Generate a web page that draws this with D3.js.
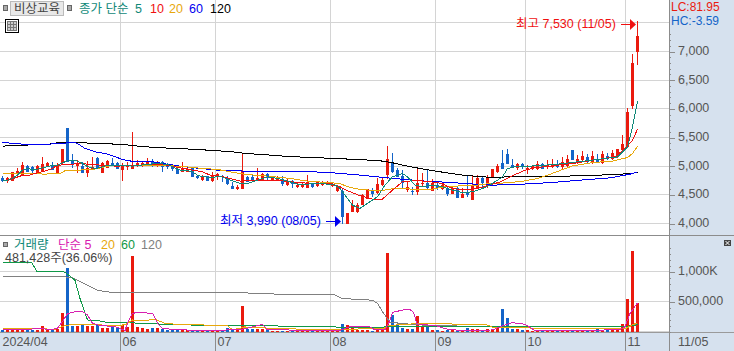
<!DOCTYPE html>
<html>
<head>
<meta charset="utf-8">
<script src="https://cdnjs.cloudflare.com/ajax/libs/d3/7.8.5/d3.min.js"></script>
<style>
html,body{margin:0;padding:0;background:#fff;overflow:hidden}
svg{display:block;font-family:"Liberation Sans","Noto Sans CJK KR",sans-serif}
.tx{font-size:12.5px}
</style>
</head>
<body>
<div id="chart"></div>
<script>
// 가격 (일봉 128개, 그림에서 읽은 값)
const opens = [4786,4740,4746,4856,4844,5007,4990,4885,4914,5007,
5007,4885,5048,5664,5088,5007,5001,4885,4943,5146,
4885,4972,5059,5059,4937,4990,4955,5001,5001,5036,
5077,5007,5077,5019,5001,4943,4902,4902,4961,4833,
4757,4827,4746,4804,4833,4769,4653,4595,4606,4804,
4815,4746,4757,4862,4757,4746,4769,4670,4734,4629,
4641,4624,4687,4653,4676,4682,4647,4560,4566,4000,
4205,4194,4321,4432,4565,4536,4670,4844,5059,4931,
4827,4583,4571,4554,4687,4699,4571,4670,4600,4612,
4519,4624,4449,4536,4409,4612,4786,4699,4814,4901,
5063,5209,5017,4976,5046,4930,4953,4959,5034,4988,
4988,5017,4988,5005,5278,5075,5116,5162,5075,5133,
5063,5174,5133,5162,5278,5337,6045,6992];
const closes = [4740,4786,4891,4914,5019,4902,4914,5007,5036,5048,
4937,5019,5298,5077,5019,5059,4885,4972,4990,4961,
5048,5088,5019,4949,5007,5013,5007,5048,5048,5071,
5001,5065,4990,4990,4943,4868,4949,4949,4815,4786,
4833,4740,4827,4856,4804,4687,4606,4641,4920,4728,
4746,4786,4862,4786,4804,4804,4682,4746,4682,4664,
4682,4716,4641,4722,4722,4722,4687,4658,4118,4176,
4321,4321,4490,4595,4513,4687,4757,5123,4902,4815,
4699,4629,4554,4711,4711,4624,4699,4624,4670,4507,
4612,4449,4513,4490,4658,4786,4699,4815,4959,5005,
4959,5046,4988,5046,5005,4971,5005,5046,4959,5017,
5046,4988,5075,5133,5116,5133,5174,5075,5174,5075,
5209,5133,5238,5296,5395,5941,6806,7265];
const highs = [4827,4804,4902,4961,5065,5019,5001,5019,5164,5077,
5077,5048,5298,5664,5205,5106,5077,5094,5152,5164,
5077,5106,5146,5077,5048,5077,5594,5106,5094,5135,
5117,5094,5094,5048,5019,4961,5065,4990,4978,4844,
4844,4833,4897,4873,4844,4827,4728,4670,5234,4827,
4844,4961,4885,4873,4827,4827,4827,4769,4757,4728,
4711,4844,4711,4740,4740,4740,4711,4670,4612,4176,
4409,4350,4513,4606,4612,4786,4804,5350,5234,4961,
4931,4740,4641,4978,4873,4931,4769,4716,4699,4653,
4641,4641,4612,4827,4827,4844,4804,4844,4959,5046,
5278,5296,5122,5063,5063,5017,5029,5087,5058,5104,
5133,5104,5162,5191,5278,5191,5267,5220,5267,5220,
5267,5232,5278,5296,5540,6016,6952,7530];
const lows = [4728,4699,4740,4786,4833,4891,4873,4856,4902,4990,
4931,4873,5019,5077,4961,4873,4873,4815,4931,4949,
4873,4961,5007,4943,4746,4931,4949,4990,4978,5001,
4978,4990,4902,4949,4920,4862,4891,4891,4804,4769,
4746,4734,4728,4757,4728,4670,4595,4583,4600,4716,
4728,4746,4746,4757,4746,4746,4658,4658,4612,4618,
4618,4612,4624,4641,4658,4670,4641,4554,3990,4000,
4199,4188,4316,4426,4455,4513,4658,4769,4873,4804,
4612,4554,4496,4496,4641,4600,4560,4583,4583,4478,
4507,4443,4438,4467,4409,4600,4641,4612,4785,4889,
4942,5034,4971,4930,4942,4872,4930,4930,4947,4959,
4971,4971,4959,4976,5104,5046,5075,5058,5046,5058,
5046,5104,5104,5151,5249,5337,5993,6760];

// 거래량 (천주)
const volumes = [27,38,44,33,33,27,27,27,93,38,
27,44,307,1060,99,99,110,99,99,104,
66,66,77,55,110,82,1263,82,55,38,
55,55,49,27,27,27,27,27,27,27,
27,27,22,27,16,60,22,27,423,44,
44,49,44,27,16,16,16,11,16,16,
16,16,16,16,16,16,16,27,126,110,
55,27,27,27,16,27,27,1312,275,110,
66,44,49,258,82,82,27,27,11,27,
22,22,27,66,44,38,22,44,38,55,
373,225,44,49,33,22,16,16,16,16,
16,16,27,27,27,22,22,27,27,44,
27,27,27,38,126,538,1334,481.428];

// 이동평균 꺾임점 [봉 번호, 값]
const ma5 = [[0,4740],[1,4757],[2,4786],[3,4844],[4,4931],[5,4961],[6,4943],[7,4949],[8,4972],[9,4990],[10,5019],[11,5019],[12,5059],[13,5094],[14.5,5106],[16,5048],[17,4990],[18.5,4961],[19.5,4972],[21,5019],[24,5019],[26,5001],[29,5030],[31,5048],[33,5030],[34,4990],[35.5,4931],[36.5,4931],[38,4902],[39,4844],[40,4815],[42,4804],[43.5,4827],[45.5,4757],[47.5,4699],[49,4699],[50,4728],[52,4786],[53,4815],[55,4786],[57,4740],[59,4687],[61,4687],[63,4699],[65,4687],[66.5,4670],[67.5,4612],[68.5,4496],[70,4321],[71.5,4263],[73,4350],[75,4467],[76.5,4670],[78,4815],[80,4873],[81,4815],[82.5,4670],[84,4641],[86,4670],[88,4641],[90,4583],[92,4536],[94,4554],[96,4612],[97.5,4670],[100,4814],[101,4959],[102.5,4988],[106.5,5005],[111,5034],[115,5075],[119,5116],[123,5162],[125,5337],[126,5685],[127,6133]];
const ma10 = [[0,4740],[2,4786],[3,4804],[4,4844],[5,4833],[7,4885],[8,4902],[9.5,4943],[10.5,4990],[12,5030],[13.5,5030],[15.5,5048],[17.5,5030],[19.5,5019],[22.5,5001],[26,5007],[29,5030],[31,5030],[33,5019],[35,4978],[37,4949],[38,4931],[40,4902],[41.5,4844],[43.5,4827],[45.5,4786],[47.5,4740],[49,4746],[55,4757],[57.5,4728],[61.5,4699],[65.5,4699],[67.5,4641],[69,4571],[71.5,4484],[74,4426],[76,4426],[78,4583],[80,4728],[82,4746],[84.5,4740],[88,4699],[89,4641],[91,4600],[93,4595],[95,4612],[97.5,4670],[99.5,4726],[101.5,4814],[104.5,4930],[106.5,4971],[111,5017],[114,5046],[118,5104],[122.5,5162],[124.5,5308],[126,5453],[127,5645]];
const ma20 = [[0,4873],[4,4873],[8.5,4862],[11.5,4873],[12.5,4920],[14.5,4926],[18.5,4949],[21.5,5007],[25.5,5019],[29.5,5019],[33.5,5007],[36.5,4990],[40,4961],[43,4943],[45.5,4902],[48.5,4856],[53,4827],[57.5,4786],[61,4740],[65.5,4711],[67.5,4699],[69,4641],[71.5,4595],[75,4571],[76.5,4583],[78.5,4612],[82,4600],[86,4600],[88.5,4641],[91,4653],[95,4670],[97.5,4699],[101,4709],[104.5,4744],[107,4785],[109,4843],[114,5005],[118,5063],[122,5087],[125,5151],[126,5220],[127,5348]];
const ma60 = [[0,5414],[3,5390],[6,5373],[9.5,5385],[14.5,5414],[15,5396],[16.5,5309],[18.5,5251],[20.5,5222],[22.5,5164],[24,5117],[26,5083],[30,5077],[32,5048],[35,5007],[37.5,4978],[39.5,4961],[43,4931],[47.5,4920],[49,4902],[62,4902],[66,4885],[71.5,4844],[76,4804],[80.5,4769],[84.5,4740],[89.5,4716],[94.5,4687],[98,4669],[104,4686],[110,4715],[115.5,4756],[121.5,4796],[125.5,4860],[127,4901]];
const ma120 = [[0,5350],[9.5,5385],[11.5,5414],[15,5414],[18.5,5396],[22.5,5385],[25.5,5367],[27.5,5344],[33,5315],[35,5309],[41,5280],[46,5251],[48.5,5222],[53.5,5193],[58,5164],[62,5152],[66,5135],[71,5117],[75.5,5094],[78,5059],[81.5,4990],[85.5,4931],[87.5,4902],[92,4844],[96,4815],[98,4802],[101,4814],[116,4831],[122,4854],[126,4872],[127,4895]];
const vma5 = [[0,38],[5.5,38],[7.5,55],[9.5,27],[11,55],[12,165],[13,296],[14.5,329],[16,335],[17,275],[18,137],[19.5,99],[22.5,82],[24.5,16],[25,137],[26,307],[28,313],[30,302],[31,137],[32,55],[34,33],[42,11],[48.5,44],[49,55],[52,121],[53,27],[55,27],[67.5,16],[69.5,82],[73.5,77],[74.5,27],[76.5,27],[77.4,165],[78,318],[80,357],[81.5,368],[82.2,318],[82.9,126],[86.9,93],[88.2,55],[89.5,27],[96,16],[98,27],[100,93],[102,148],[104.5,121],[106.5,16],[123.5,27],[124.5,82],[125.5,302],[127,478]];
const vma20 = [[0,49],[5.5,49],[10.5,38],[12.5,99],[13.5,110],[19.5,110],[21.5,99],[24.5,110],[26,192],[27.5,176],[30.5,203],[32.5,137],[34.5,121],[38.5,121],[41.5,99],[45,99],[46,27],[47.5,55],[48.5,77],[49,66],[54,55],[60,38],[68,38],[73,44],[76.2,44],[77,99],[83,132],[89,137],[90.3,121],[96.6,121],[98,71],[104,71],[106,55],[119.5,44],[124.5,44],[126,110],[127,148]];
const vma60 = [[0,1142],[5.9,1142],[6.9,999],[12.2,999],[13.2,944],[14.5,851],[15.5,549],[17,192],[19.5,176],[21.5,143],[26,143],[32.5,121],[39.5,104],[49,104],[54,93],[73,66],[77,77],[98,82],[124,82],[126.4,99],[127,121]];
const vma120 = [[0,911],[12.5,911],[14.2,889],[17,769],[19,686],[21,659],[26.2,648],[49,642],[54,626],[58,609],[66.5,609],[68,549],[71.5,533],[74,522],[75,467],[76,329],[77.5,154],[81.5,121],[85.5,99],[98,82],[125,82],[127,121]];

const priceTicks = [4000,4500,5000,5500,6000,6500,7000];
const priceGrid = [4000,4500,5000,5500,6000,6500,7000,7500];
const volTicks = [500,1000];
const monthIdx = [0,24,43,66,87,105,125];
const monthLabels = ["2024/04","06","07","08","09","10","11"];

const W = 734, H = 351;
const plotR = 669;
const RED = "#ea1a0e", BLUE = "#1464c8", PANEL = "#d6e1ee", GRID = "#d4d4d4", AX = "#8c8c8c", TXT = "#555";

const x = d3.scaleLinear().domain([0,127]).range([2.5,637.5]);
const y = d3.scaleLinear().domain([4000,7000]).range([223.5,51.5]);
const yv = d3.scaleLinear().domain([0,1000]).range([331.5,271.5]);
const gridX = i => Math.round(x(i)-2.5)+0.5;

const svg = d3.select("#chart").append("svg").attr("width",W).attr("height",H);
svg.append("rect").attr("width",W).attr("height",H).attr("fill","#fff");

// 오른쪽, 아래 패널
svg.append("rect").attr("x",plotR).attr("y",0).attr("width",W-plotR).attr("height",H).attr("fill",PANEL);
svg.append("rect").attr("x",0).attr("y",332).attr("width",W).attr("height",H-332).attr("fill",PANEL);

// 격자
const grid = svg.append("g").attr("stroke",GRID).attr("shape-rendering","crispEdges");
grid.selectAll(".h").data(priceGrid).enter().append("line")
    .attr("x1",0).attr("x2",plotR).attr("y1",d=>Math.floor(y(d))+0.5).attr("y2",d=>Math.floor(y(d))+0.5);
grid.selectAll(".v").data(volTicks.concat([0])).enter().append("line")
    .attr("x1",0).attr("x2",plotR).attr("y1",d=>Math.floor(yv(d))+0.5).attr("y2",d=>Math.floor(yv(d))+0.5);
grid.selectAll(".m").data(monthIdx.slice(1)).enter().append("line")
    .attr("x1",gridX).attr("x2",gridX).attr("y1",0).attr("y2",332);

// 캔들
const candles = svg.append("g").attr("shape-rendering","crispEdges");
const idx = d3.range(opens.length);
const colr = i => closes[i] >= opens[i] ? RED : BLUE;
candles.selectAll(".w").data(idx).enter().append("line")
    .attr("x1",i=>x(i)).attr("x2",i=>x(i))
    .attr("y1",i=>y(highs[i])).attr("y2",i=>y(lows[i]))
    .attr("stroke",colr);
candles.selectAll(".b").data(idx).enter().append("rect")
    .attr("x",i=>x(i)-1.5).attr("width",3)
    .attr("y",i=>y(Math.max(opens[i],closes[i])))
    .attr("height",i=>Math.max(1,Math.abs(y(opens[i])-y(closes[i]))))
    .attr("fill",colr);

// 가격 이동평균
const line = d3.line().x(d=>x(d[0])).y(d=>y(d[1]));
const maList = [[ma120,"#000"],[ma60,"#0000f0"],[ma20,"#e8a80c"],[ma10,"#f01010"],[ma5,"#108878"]];
maList.forEach(m=>{
    svg.append("path").attr("d",line(m[0])).attr("fill","none").attr("stroke",m[1])
        .attr("stroke-width",1).attr("shape-rendering","crispEdges");
});

// 거래량 막대
const vols = svg.append("g").attr("shape-rendering","crispEdges");
vols.selectAll("rect").data(idx).enter().append("rect")
    .attr("x",i=>x(i)-1.5).attr("width",3)
    .attr("y",i=>yv(volumes[i])).attr("height",i=>yv(0)-yv(volumes[i]))
    .attr("fill",colr);

const vline = d3.line().x(d=>x(d[0])).y(d=>yv(d[1]));
const vmaList = [[vma120,"#808080"],[vma60,"#109848"],[vma20,"#e8a80c"],[vma5,"#d820b0"]];
vmaList.forEach(m=>{
    svg.append("path").attr("d",vline(m[0])).attr("fill","none").attr("stroke",m[1])
        .attr("stroke-width",1).attr("shape-rendering","crispEdges");
});

// 패널 경계선
svg.append("rect").attr("x",0).attr("y",235).attr("width",W).attr("height",1).attr("fill",AX);
svg.append("rect").attr("x",plotR).attr("y",0).attr("width",1).attr("height",H).attr("fill",AX);
svg.append("rect").attr("x",0).attr("y",332).attr("width",W).attr("height",1).attr("fill","#9a9a9a");

// 오른쪽 축
const priceAxis = d3.axisRight(y).tickValues(priceTicks).tickSize(6).tickPadding(3).tickFormat(d3.format(","));
const priceMinor = d3.axisRight(y).tickValues(d3.range(3800,7400,100)).tickSize(2).tickFormat("");
const volAxis = d3.axisRight(yv).tickValues(volTicks).tickSize(6).tickPadding(3).tickFormat(d=>d===1000?"1,000K":"500,000");
const volMinor = d3.axisRight(yv).tickValues(d3.range(0,1500,100)).tickSize(2).tickFormat("");
[priceMinor,priceAxis,volMinor,volAxis].forEach(ax=>{
    const g = svg.append("g").attr("transform",`translate(${plotR},0)`).call(ax);
    g.select(".domain").remove();
    g.selectAll("line").attr("stroke",AX).attr("shape-rendering","crispEdges");
    g.selectAll("text").attr("fill",TXT).attr("class","tx").attr("dy","0.24em");
});

// 아래 날짜축
const xa = svg.append("g");
xa.selectAll("line").data(monthIdx.slice(1)).enter().append("line")
    .attr("x1",gridX).attr("x2",gridX).attr("y1",332).attr("y2",H)
    .attr("stroke",AX).attr("shape-rendering","crispEdges");
xa.selectAll("text").data(monthIdx).enter().append("text")
    .attr("class","tx").attr("fill",TXT)
    .attr("x",i=>gridX(i)+2).attr("y",346)
    .text((d,k)=>monthLabels[k]);
svg.append("text").attr("class","tx").attr("fill",TXT).attr("x",678).attr("y",346).text("11/05");

// 글자
function label(t,px,py,c,s){
    return svg.append("text").attr("x",px).attr("y",py).attr("fill",c)
        .attr("font-size",s||12.5).text(t);
}
// 머리글
svg.append("rect").attr("x",3.5).attr("y",5.5).attr("width",4).attr("height",5).attr("fill","#aaa").attr("stroke","#666");
svg.append("rect").attr("x",67.5).attr("y",5.5).attr("width",4).attr("height",5).attr("fill","#aaa").attr("stroke","#666");
svg.append("rect").attr("x",10.5).attr("y",1.5).attr("width",53).attr("height",14).attr("fill","#e8e8e8").attr("stroke","#bbb");
label("비상교육",14,13,"#444");
label("종가 단순",79,13,"#108878");
label("5",135,13,"#108878");
label("10",150,13,"#f01010");
label("20",169,13,"#e8a80c");
label("60",189,13,"#0000f0");
label("120",210,13,"#000");

// 표 아이콘
const ic = svg.append("g").attr("shape-rendering","crispEdges");
ic.append("rect").attr("x",5.5).attr("y",19.5).attr("width",13).attr("height",13).attr("fill","#fff").attr("stroke","#000");
ic.append("rect").attr("x",7.5).attr("y",21.5).attr("width",9).attr("height",9).attr("fill","#ccc").attr("stroke","#777");
ic.append("path").attr("d","M10.5 21.5V30.5M13.5 21.5V30.5M7.5 24.5H16.5M7.5 27.5H16.5").attr("stroke","#777");

// LC HC
label("LC:81.95",671,11,RED,12);
label("HC:-3.59",671,24.5,BLUE,12);

// 최고 최저
label("최고 7,530 (11/05)",516,28,"#f01010");
label("최저 3,990 (08/05)",220,225,"#0000f0");
svg.append("path").attr("d",`M621 24.5H631`).attr("stroke","#f01010").attr("shape-rendering","crispEdges");
svg.append("path").attr("d",`M630 19L636 24.5L630 30Z`).attr("fill","#f01010");
svg.append("path").attr("d",`M326 221.5H337`).attr("stroke","#0000f0").attr("shape-rendering","crispEdges");
svg.append("path").attr("d",`M335 216L341 221.5L335 227Z`).attr("fill","#0000f0");

// 거래량 머리글
svg.append("rect").attr("x",3.5).attr("y",242.5).attr("width",4).attr("height",4).attr("fill","#aaa").attr("stroke","#666");
label("거래량",14,249,"#108878");
label("단순 5",58,249,"#d820b0");
label("20",101,249,"#e8a80c");
label("60",121,249,"#109848");
label("120",141,249,"#808080");
label("481,428주(36.06%)",5,262,"#444");

// 닫기 버튼
svg.append("rect").attr("x",724).attr("y",240).attr("width",7).attr("height",6).attr("fill","#444");
svg.append("path").attr("d","M725.5 241L729.5 245M729.5 241L725.5 245").attr("stroke","#fff");
</script>
</body>
</html>
